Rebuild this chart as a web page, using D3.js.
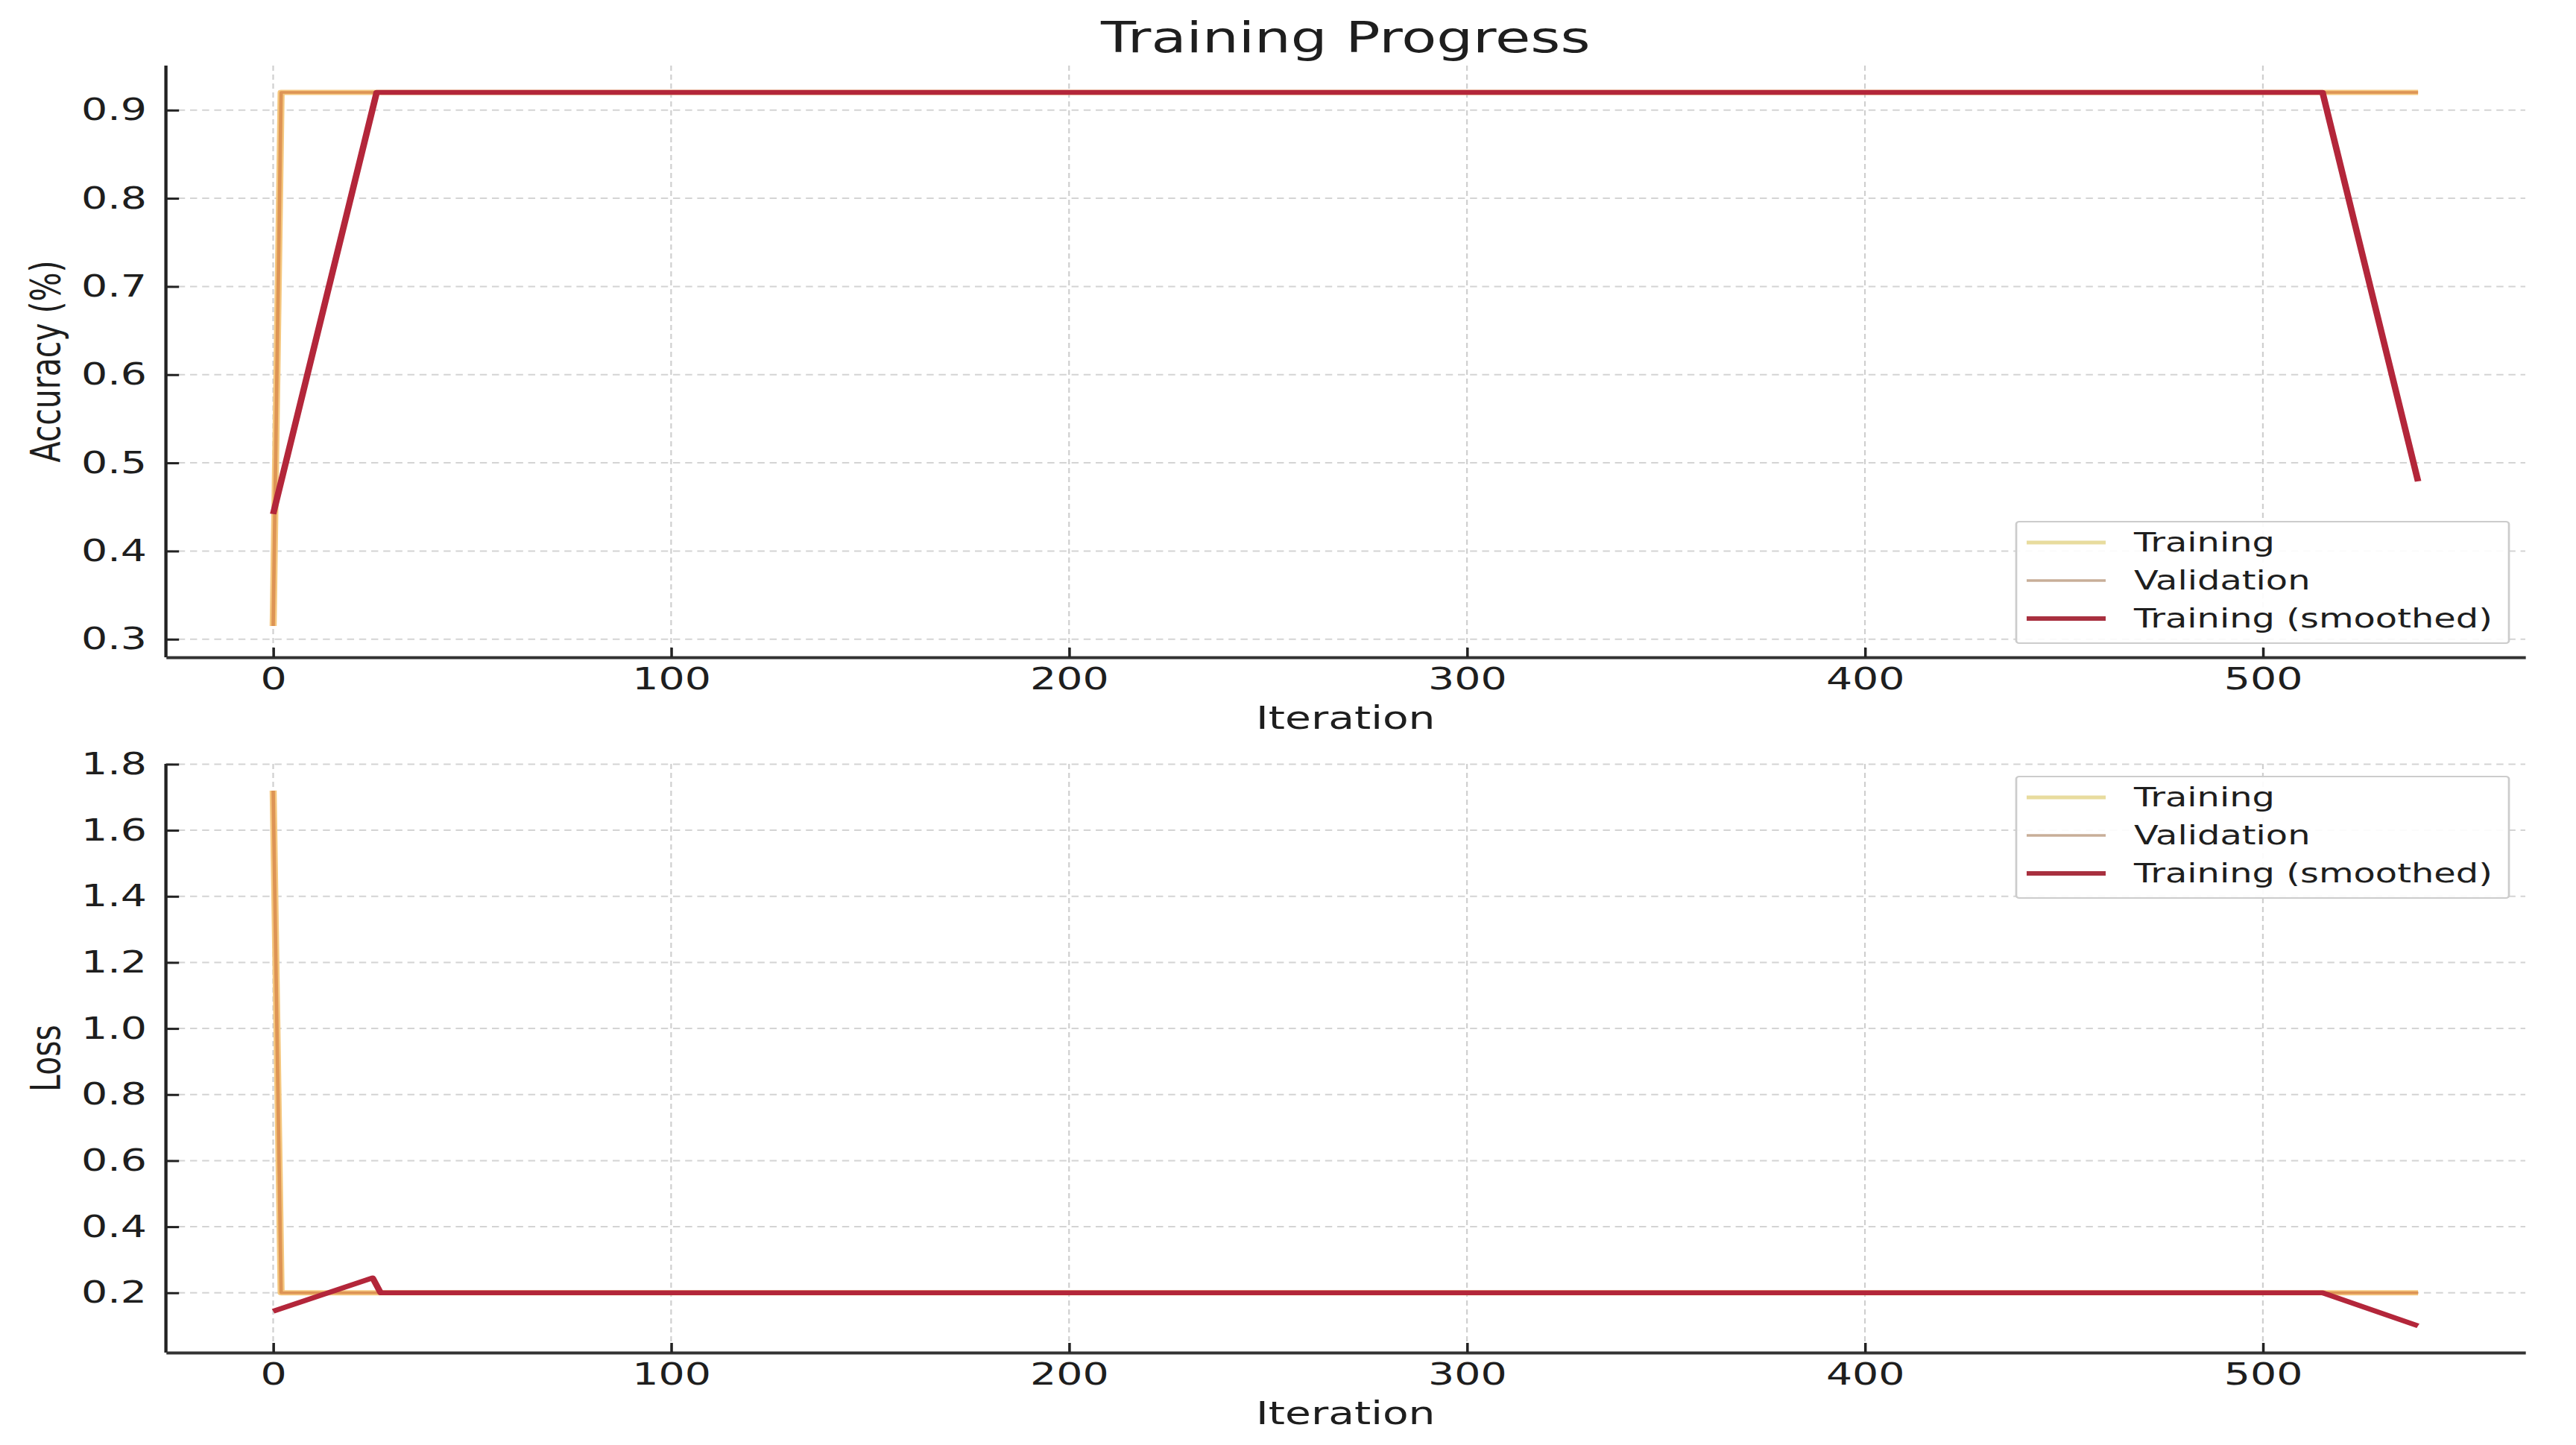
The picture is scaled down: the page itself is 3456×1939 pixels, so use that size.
<!DOCTYPE html>
<html>
<head>
<meta charset="utf-8">
<script src="https://cdn.jsdelivr.net/npm/d3@7"></script>
<style>
  html, body { margin: 0; padding: 0; background: #ffffff; }
  svg { display: block; }
  text { font-family: "DejaVu Sans", sans-serif; fill: #1e1e1e; }
</style>
</head>
<body>
<svg id="chart" width="3456" height="1939"></svg>
<script>
// ---------------- data ----------------
const xTicks = [0, 100, 200, 300, 400, 500];
const accTicks = [0.3, 0.4, 0.5, 0.6, 0.7, 0.8, 0.9];
const lossTicks = [0.2, 0.4, 0.6, 0.8, 1.0, 1.2, 1.4, 1.6, 1.8];

const accTrainIter   = [0, 2, 539];
const accTrain       = [0.315, 0.92, 0.92];
const accValIter     = [0, 2, 539];
const accVal         = [0.315, 0.92, 0.92];
const accSmoothIter  = [0, 26, 515, 539];
const accSmooth      = [0.442, 0.92, 0.92, 0.479];

const lossTrainIter  = [0, 2, 539];
const lossTrain      = [1.72, 0.20, 0.20];
const lossValIter    = [0, 2, 539];
const lossVal        = [1.72, 0.20, 0.20];
const lossSmoothIter = [0, 25, 27, 515, 539];
const lossSmooth     = [0.144, 0.245, 0.20, 0.20, 0.10];

const seriesNames = ["Training", "Validation", "Training (smoothed)"];
const lineColors  = ["#f5c77e", "#dd9455", "#b3263a"];
const legendColors = ["#e8dc9e", "#c8ae98", "#a8303f"];

// ---------------- layout ----------------
const SX = 1.35;                 // horizontal stretch of the picture
const left = 222.6 / SX, right = 3388 / SX;
const panels = [
  { top: 88,   bottom: 882,  domain: [0.2795, 0.9505], ticks: accTicks, label: "Accuracy (%)",
    legendTop: 700,
    series: [[accTrainIter, accTrain], [accValIter, accVal], [accSmoothIter, accSmooth]] },
  { top: 1025, bottom: 1815, domain: [0.019, 1.801], ticks: lossTicks, label: "Loss",
    legendTop: 1042,
    series: [[lossTrainIter, lossTrain], [lossValIter, lossVal], [lossSmoothIter, lossSmooth]] }
];
const lineWidths = [7, 3.5, 6.5];
const legendWidths = [5, 3.5, 6];

const svg = d3.select("#chart");
svg.append("rect").attr("width", 3456).attr("height", 1939).attr("fill", "#fff");
const g = svg.append("g").attr("transform", `scale(${SX},1)`);

const x = d3.scaleLinear().domain([-26.95, 565.95]).range([left, right]);

// title
g.append("text")
  .attr("x", (left + right) / 2).attr("y", 70)
  .attr("text-anchor", "middle")
  .style("font-size", "57px")
  .text("Training Progress");

panels.forEach(p => {
  const y = d3.scaleLinear().domain(p.domain).range([p.bottom, p.top]);
  const pg = g.append("g");

  // grid
  pg.append("g").selectAll("line").data(p.ticks).join("line")
    .attr("x1", left).attr("x2", right)
    .attr("y1", d => y(d)).attr("y2", d => y(d))
    .attr("stroke", "#d4d4d4").attr("stroke-width", 2).attr("stroke-dasharray", "7,5");
  pg.append("g").selectAll("line").data(xTicks).join("line")
    .attr("x1", d => x(d)).attr("x2", d => x(d))
    .attr("y1", p.top).attr("y2", p.bottom)
    .attr("stroke", "#cfcfcf").attr("stroke-width", 1.6).attr("stroke-dasharray", "7,5");

  // lines
  p.series.forEach((s, i) => {
    const pts = s[0].map((it, k) => [it, s[1][k]]);
    pg.append("path")
      .datum(pts)
      .attr("fill", "none")
      .attr("stroke", lineColors[i])
      .attr("stroke-width", lineWidths[i])
      .attr("stroke-linejoin", "round")
      .attr("d", d3.line().x(d => x(d[0])).y(d => y(d[1])));
  });

  // axes
  const ya = pg.append("g").attr("transform", `translate(${left},0)`)
    .call(d3.axisLeft(y).tickValues(p.ticks).tickFormat(d3.format(".1f"))
      .tickSizeInner(-13).tickSizeOuter(0).tickPadding(19));
  ya.select(".domain").attr("d", `M0,${p.bottom}V${p.top}`)
    .attr("stroke", "#222").attr("stroke-width", 3.2);
  ya.selectAll(".tick line").attr("stroke", "#222").attr("stroke-width", 3);
  ya.selectAll(".tick text").style("font-size", "41px").attr("fill", "#1e1e1e")
    .style("font-family", "DejaVu Sans");

  const xa = pg.append("g").attr("transform", `translate(0,${p.bottom})`)
    .call(d3.axisBottom(x).tickValues(xTicks).tickFormat(d3.format("d"))
      .tickSizeInner(-13).tickSizeOuter(0).tickPadding(14));
  xa.select(".domain").attr("stroke", "#333").attr("stroke-width", 3.8);
  xa.selectAll(".tick line").attr("stroke", "#222").attr("stroke-width", 2.6);
  xa.selectAll(".tick text").style("font-size", "41px").attr("fill", "#1e1e1e")
    .style("font-family", "DejaVu Sans");

  // axis labels
  g.append("text")
    .attr("x", (left + right) / 2).attr("y", p.bottom + 96)
    .attr("text-anchor", "middle").style("font-size", "42px")
    .text("Iteration");
  g.append("text")
    .attr("transform", `translate(${45},${(p.top + p.bottom) / 2}) rotate(-90)`)
    .attr("text-anchor", "middle").attr("dy", "0.35em")
    .style("font-size", "41px")
    .text(p.label);

  // legend
  const lx0 = 2705 / SX, lx1 = 3366 / SX;
  const lg = g.append("g");
  lg.append("rect")
    .attr("x", lx0).attr("y", p.legendTop)
    .attr("width", lx1 - lx0).attr("height", 163)
    .attr("rx", 3)
    .attr("fill", "#fff").attr("fill-opacity", 0.9)
    .attr("stroke", "#cccccc").attr("stroke-width", 2);
  seriesNames.forEach((name, i) => {
    const ry = p.legendTop + 28 + i * 51;
    lg.append("line")
      .attr("x1", 2719 / SX).attr("x2", 2825 / SX)
      .attr("y1", ry).attr("y2", ry)
      .attr("stroke", legendColors[i]).attr("stroke-width", legendWidths[i]);
    lg.append("text")
      .attr("x", 2863 / SX).attr("y", ry + 12.5)
      .style("font-size", "35.5px")
      .text(name);
  });
});
</script>
</body>
</html>
